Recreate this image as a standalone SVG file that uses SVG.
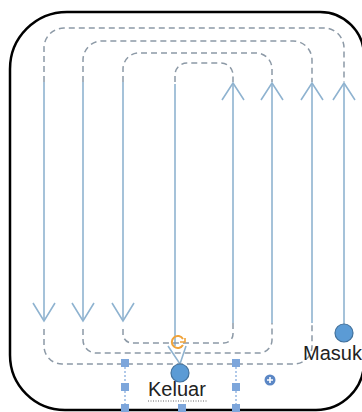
<svg xmlns="http://www.w3.org/2000/svg" width="362" height="412" viewBox="0 0 362 412">
<style>
.flow{fill:none;stroke:#8fb3d0;stroke-width:1.6}
.dash{fill:none;stroke:#8c99a6;stroke-width:1.5;stroke-dasharray:6 4}
.head{fill:none;stroke:#8fb3d0;stroke-width:1.6;stroke-linejoin:miter}
.node{fill:#5b9bd5;stroke:#41719c;stroke-width:1.2}
.h{fill:#7da6db}
.lbl{font-family:"Liberation Sans",Arial,sans-serif;font-size:20px;fill:#222}
</style>
<path d="M67,12 H320 A44,44 0 0 1 364,56 V362 A48,48 0 0 1 316,410 H65 A55,55 0 0 1 10,355 V69 A57,57 0 0 1 67,12 Z" fill="#fff" stroke="#000" stroke-width="2.5"/>
<g id="connectors">
<line class="flow" x1="44" y1="82" x2="44" y2="321"/>
<line class="flow" x1="83" y1="82" x2="83" y2="321"/>
<line class="flow" x1="123" y1="82" x2="123" y2="321"/>
<polyline class="head" points="33,303 44,321 55,303"/>
<polyline class="head" points="72,303 83,321 94,303"/>
<polyline class="head" points="112,303 123,321 134,303"/>
<line class="flow" x1="175" y1="84" x2="175" y2="346"/>
<polyline class="head" points="168,346 180,364 186,346"/>
<line class="flow" x1="233" y1="83" x2="233" y2="323"/>
<line class="flow" x1="272" y1="83" x2="272" y2="323"/>
<line class="flow" x1="312" y1="83" x2="312" y2="323"/>
<line class="flow" x1="344" y1="83" x2="344" y2="324"/>
<polyline class="head" points="222,100 233,83 244,100"/>
<polyline class="head" points="261,100 272,83 283,100"/>
<polyline class="head" points="301,100 312,83 323,100"/>
<polyline class="head" points="333,100 344,83 355,100"/>
<path class="dash" d="M44,82 V48 A20,20 0 0 1 64,28 H324 A20,20 0 0 1 344,48 V82"/>
<path class="dash" d="M83,82 V60 A19,19 0 0 1 102,41 H293 A19,19 0 0 1 312,60 V82"/>
<path class="dash" d="M123,82 V69 A16,16 0 0 1 139,53 H256 A16,16 0 0 1 272,69 V82"/>
<path class="dash" d="M175,82 V75 A12,12 0 0 1 187,63 H221 A12,12 0 0 1 233,75 V82"/>
<path class="dash" d="M44,329 V346 A18,18 0 0 0 62,364 H294 A18,18 0 0 0 312,346 V323"/>
<path class="dash" d="M83,329 V340 A13,13 0 0 0 96,353 H259 A13,13 0 0 0 272,340 V323"/>
<path class="dash" d="M123,329 V334 A9,9 0 0 0 132,343 H224 A9,9 0 0 0 233,334 V323"/>
</g>
<g id="masuk">
<circle class="node" cx="344" cy="333" r="9"/>
<text class="lbl" x="303" y="360">Masuk</text>
</g>
<g id="keluar">
<line x1="125" y1="363" x2="125" y2="408" stroke="#7da6db" stroke-width="1.2" stroke-dasharray="2 2"/>
<line x1="236" y1="363" x2="236" y2="408" stroke="#7da6db" stroke-width="1.2" stroke-dasharray="2 2"/>
<circle class="node" cx="180" cy="373" r="9"/>
<rect class="h" x="121" y="359" width="8" height="8"/>
<rect class="h" x="232" y="359" width="8" height="8"/>
<rect class="h" x="121" y="383" width="8" height="8"/>
<rect class="h" x="232" y="383" width="8" height="8"/>
<rect class="h" x="121" y="404" width="8" height="8"/>
<rect class="h" x="178" y="404" width="8" height="8"/>
<rect class="h" x="232" y="404" width="8" height="8"/>
<path d="M183,339 A6,6 0 1 0 183,345" fill="none" stroke="#f0a33a" stroke-width="2"/>
<path d="M180,342 L185,342 L185,338" fill="none" stroke="#f0a33a" stroke-width="1.6"/>
<circle cx="270" cy="380" r="5.5" fill="#5b87c5"/>
<path d="M267,380 H273 M270,377 V383" stroke="#fff" stroke-width="1.6"/>
<text class="lbl" x="148" y="396">Keluar</text>
<line x1="148" y1="401" x2="208" y2="401" stroke="#666" stroke-width="1" stroke-dasharray="1 1.5"/>
</g>
</svg>
